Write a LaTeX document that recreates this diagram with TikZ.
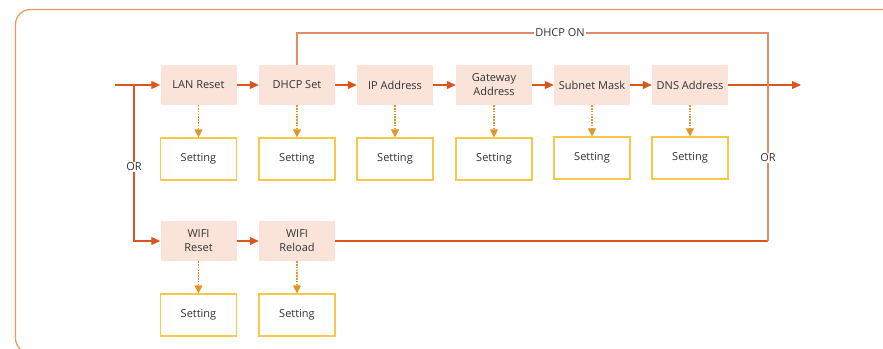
\documentclass[tikz,border=0pt]{standalone}
\usepackage{fontspec}
\setmainfont{Open Sans}
\usetikzlibrary{arrows.meta}
\definecolor{boxfill}{HTML}{FAE4D9}
\definecolor{flow}{HTML}{D9561F}
\definecolor{flowlight}{HTML}{E48A66}
\definecolor{gold}{HTML}{F7C84A}
\definecolor{golddash}{HTML}{E0962A}
\definecolor{frame}{HTML}{EE9A55}
\definecolor{txt}{HTML}{333333}
\tikzset{
  mainbox/.style={fill=boxfill, draw=none, minimum width=76pt, minimum height=40pt, inner sep=0pt, align=center, text=txt, font=\fontsize{11}{14}\selectfont},
  setbox/.style={draw=gold, line width=1.2pt, fill=white, minimum width=76pt, minimum height=42pt, inner sep=0pt, text=txt, font=\fontsize{11}{14}\selectfont},
  flowarrow/.style={draw=flow, line width=1.2pt, -{Triangle[length=9pt,width=8pt]}},
  flowline/.style={draw=flow, line width=1.2pt},
  lightline/.style={draw=flowlight, line width=1.2pt},
  setarrow/.style={draw=golddash, line width=1.1pt, dash pattern=on 1.6pt off 1.2pt, -{Triangle[length=8pt,width=8pt]}},
  lbl/.style={fill=white, inner sep=1pt, text=txt, font=\fontsize{11}{14}\selectfont}
}
\begin{document}
\begin{tikzpicture}[x=1pt,y=-1pt]
\useasboundingbox (0,0) rectangle (883,348);
\draw[frame, line width=1.2pt, rounded corners=15pt] (15.5,9.5) rectangle (905,353);

% top row
\node[mainbox] (lan) at (198.5,85) {LAN Reset};
\node[mainbox] (dhcp) at (297,85) {DHCP Set};
\node[mainbox] (ip) at (395,85) {IP Address};
\node[mainbox, text width=74pt] (gw) at (494,85) {Gateway\\Address};
\node[mainbox] (sub) at (592,85) {Subnet Mask};
\node[mainbox] (dns) at (690,85) {DNS Address};

\node[setbox] (s1) at (198.5,159) {Setting};
\node[setbox] (s2) at (297,159) {Setting};
\node[setbox] (s3) at (395,159) {Setting};
\node[setbox] (s4) at (494,159) {Setting};
\node[setbox] (s5) at (592,158) {Setting};
\node[setbox] (s6) at (690,158) {Setting};

% wifi row
\node[mainbox, text width=74pt] (wr) at (198.5,241) {WIFI\\Reset};
\node[mainbox, text width=74pt] (wl) at (297,241) {WIFI\\Reload};
\node[setbox] (s7) at (198.5,315) {Setting};
\node[setbox] (s8) at (297,315) {Setting};

% coordinates
\coordinate (in) at (115,85);
\coordinate (br) at (134,85);
\coordinate (out) at (801,85);
\coordinate (rc) at (768,241);
\coordinate (tr) at (768,33);
\coordinate (tl) at (297,33);

% main flow
\draw[flowarrow] (in) -- (lan);
\draw[flowarrow] (lan) -- (dhcp);
\draw[flowarrow] (dhcp) -- (ip);
\draw[flowarrow] (ip) -- (gw);
\draw[flowarrow] (gw) -- (sub);
\draw[flowarrow] (sub) -- (dns);
\draw[flowarrow] (dns) -- (out);

% OR branch
\draw[flowarrow] (br) |- (wr);
\node[lbl] (or1) at (134,167) {OR};
\draw[flowarrow] (wr) -- (wl);

% wifi reload back to DHCP
\draw[flowline] (wl.east) -- (rc);
\draw[lightline] (rc) -- (tr) -- (tl) -- (dhcp.north);
\node[lbl] (or2) at (768,158) {OR};
\node[lbl] (don) at (560,33) {DHCP ON};

% setting arrows
\draw[setarrow] (lan.south) -- (s1.north);
\draw[setarrow] (dhcp.south) -- (s2.north);
\draw[setarrow] (ip.south) -- (s3.north);
\draw[setarrow] (gw.south) -- (s4.north);
\draw[setarrow] (sub.south) -- (s5.north);
\draw[setarrow] (dns.south) -- (s6.north);
\draw[setarrow] (wr.south) -- (s7.north);
\draw[setarrow] (wl.south) -- (s8.north);
\end{tikzpicture}
\end{document}
